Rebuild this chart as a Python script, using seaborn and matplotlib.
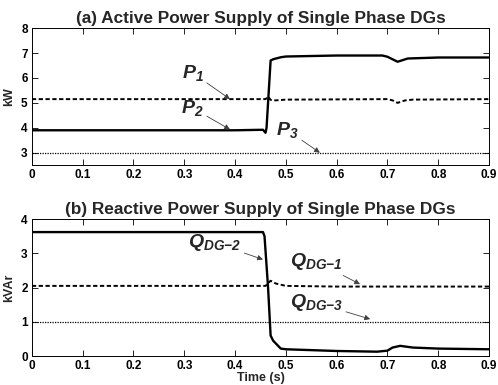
import matplotlib
matplotlib.use("Agg")
import matplotlib.pyplot as plt
import seaborn as sns
import pandas as pd

# ---- data ----
t_p1 = [0, 0.46, 0.465, 0.47, 0.48, 0.5, 0.7, 0.71, 0.72, 0.735, 0.75, 0.9]
p1 = [5.15, 5.15, 5.25, 5.12, 5.1, 5.13, 5.15, 5.1, 5.0, 5.1, 5.13, 5.15]
t_p2 = [0, 0.1, 0.2, 0.3, 0.4, 0.455, 0.46, 0.462, 0.47, 0.475, 0.49, 0.5, 0.6, 0.69, 0.70, 0.72, 0.74, 0.8, 0.9]
p2 = [3.9, 3.9, 3.9, 3.9, 3.9, 3.92, 3.8, 4.0, 6.7, 6.75, 6.83, 6.86, 6.9, 6.9, 6.85, 6.65, 6.78, 6.82, 6.82]
t_p3 = [0, 0.9]
p3 = [3.0, 3.0]

t_q1 = [0, 0.46, 0.47, 0.48, 0.5, 0.6, 0.9]
q1 = [2.05, 2.05, 2.2, 2.12, 2.05, 2.03, 2.03]
t_q2 = [0, 0.455, 0.458, 0.465, 0.47, 0.475, 0.49, 0.5, 0.6, 0.68, 0.70, 0.71, 0.725, 0.75, 0.8, 0.9]
q2 = [3.62, 3.62, 3.5, 2.0, 0.6, 0.45, 0.22, 0.2, 0.15, 0.13, 0.16, 0.25, 0.3, 0.25, 0.22, 0.2]
t_q3 = [0, 0.9]
q3 = [1.0, 1.0]

xticks = [0, 0.1, 0.2, 0.3, 0.4, 0.5, 0.6, 0.7, 0.8, 0.9]
xticklabels = ["0", "0.1", "0.2", "0.3", "0.4", "0.5", "0.6", "0.7", "0.8", "0.9"]

sns.set_style("ticks")
plt.rcParams["font.family"] = ["Liberation Sans", "DejaVu Sans"]
plt.rcParams["font.weight"] = "bold"
plt.rcParams["mathtext.fontset"] = "custom"
plt.rcParams["mathtext.it"] = "Liberation Sans:bold:italic"
plt.rcParams["mathtext.rm"] = "Liberation Sans:bold:italic"
plt.rcParams["mathtext.default"] = "it"

fig = plt.figure(figsize=(4.98, 3.85), dpi=100)
ax1 = fig.add_axes([0.064, 0.571, 0.918, 0.356])
ax2 = fig.add_axes([0.064, 0.075, 0.918, 0.356])

dash = (0, (2.2, 1.3))
dot = (0, (1, 1))

def line(ax, t, v, lw, ls):
    df = pd.DataFrame({"t": t, "v": v})
    sns.lineplot(data=df, x="t", y="v", ax=ax, color="black", lw=lw, linestyle=ls,
                 estimator=None, sort=False)

line(ax1, t_p1, p1, 1.4, dash)
line(ax1, t_p2, p2, 1.7, "-")
line(ax1, t_p3, p3, 0.9, dot)
line(ax2, t_q1, q1, 1.4, dash)
line(ax2, t_q2, q2, 1.7, "-")
line(ax2, t_q3, q3, 0.9, dot)

for ax in (ax1, ax2):
    ax.set_xlim(0, 0.9)
    ax.set_xticks(xticks)
    ax.set_xticklabels(xticklabels)
    ax.tick_params(direction="in", top=True, right=True, length=4, width=0.6,
                   labelsize=8.5, pad=3, colors="black")
    for s in ax.spines.values():
        s.set_visible(True)
        s.set_linewidth(0.7)
        s.set_color("black")
    ax.set_xlabel("")

ax1.set_ylim(2.5, 8)
ax1.set_yticks([3, 4, 5, 6, 7, 8])
ax2.set_ylim(0, 4)
ax2.set_yticks([0, 1, 2, 3, 4])
for ax in (ax1, ax2):
    for lab in ax.get_xticklabels() + ax.get_yticklabels():
        lab.set_fontweight("bold")

ax1.set_ylabel("kW", fontsize=9, fontweight="bold", labelpad=4)
ax2.set_ylabel("kVAr", fontsize=9, fontweight="bold", labelpad=4)
ax2.set_xlabel("Time (s)", fontsize=9, fontweight="bold", labelpad=0)

ax1.set_title("(a) Active Power Supply of Single Phase DGs", fontsize=12.4,
              fontweight="bold", pad=4)
ax2.set_title("(b) Reactive Power Supply of Single Phase DGs", fontsize=12.4,
              fontweight="bold", pad=4)

arrow = dict(arrowstyle="-|>", color="0.25", lw=0.6, mutation_scale=8,
             shrinkA=0, shrinkB=0)
fs = 14
ax1.annotate("$P_{1}$", xy=(0.39, 5.15), xytext=(0.338, 5.8), fontsize=fs,
             ha="right", va="bottom", arrowprops=arrow)
ax1.annotate("$P_{2}$", xy=(0.39, 3.93), xytext=(0.338, 4.4), fontsize=fs,
             ha="right", va="bottom", arrowprops=arrow)
ax1.annotate("$P_{3}$", xy=(0.567, 3.0), xytext=(0.525, 3.5), fontsize=fs,
             ha="right", va="bottom", arrowprops=arrow)
ax2.annotate("$Q_{DG{-}2}$", xy=(0.455, 2.82), xytext=(0.412, 3.0), fontsize=fs,
             ha="right", va="bottom", arrowprops=arrow)
ax2.annotate("$Q_{DG{-}1}$", xy=(0.646, 2.1), xytext=(0.612, 2.45), fontsize=fs,
             ha="right", va="bottom", arrowprops=arrow)
ax2.annotate("$Q_{DG{-}3}$", xy=(0.666, 1.08), xytext=(0.612, 1.25), fontsize=fs,
             ha="right", va="bottom", arrowprops=arrow)

fig.savefig("out.png", dpi=100)
